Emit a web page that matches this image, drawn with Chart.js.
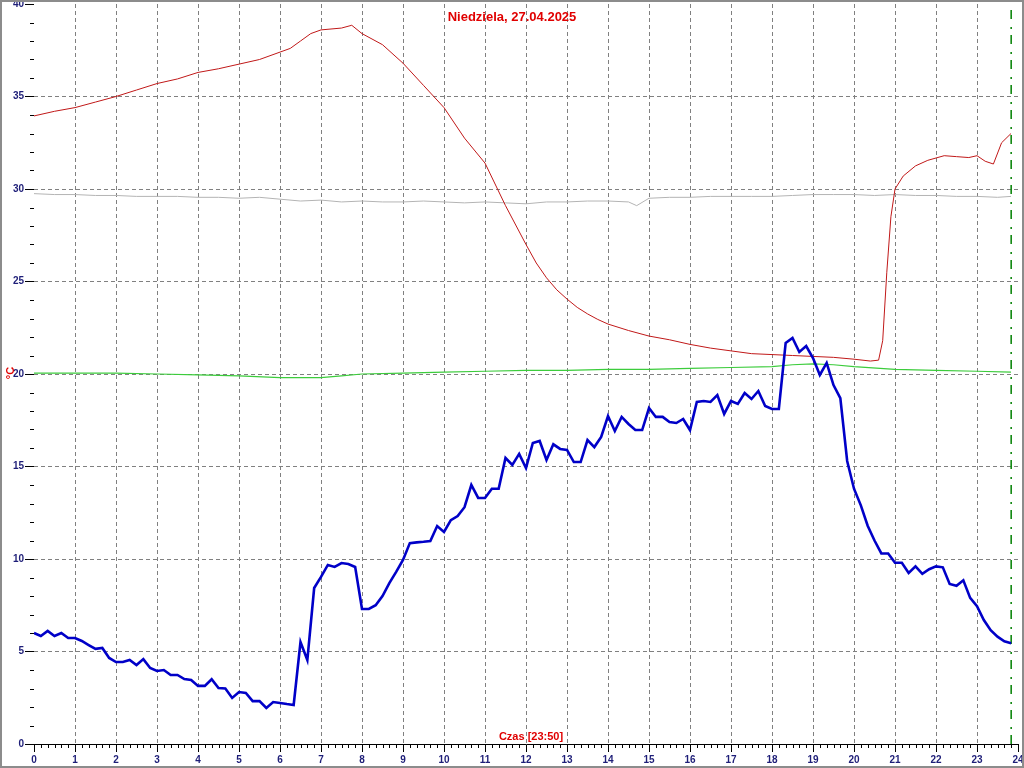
<!DOCTYPE html>
<html>
<head>
<meta charset="utf-8">
<script src="https://cdn.jsdelivr.net/npm/chart.js@4.4.1/dist/chart.umd.min.js"></script>
<style>
  html, body { margin: 0; padding: 0; background: #fff; }
  canvas { display: block; }
</style>
</head>
<body>
<canvas id="wykres" width="1024" height="768"></canvas>
<script>
const tytul = "Niedziela, 27.04.2025";
const opisX = "Czas [23:50]";
const opisY = "°C";
const czasPomiaru = 23 + 50 / 60; // 23:50

const godziny = [0,1,2,3,4,5,6,7,8,9,10,11,12,13,14,15,16,17,18,19,20,21,22,23,24];
const wartosciY = [0,5,10,15,20,25,30,35,40];

// temperatura zewnetrzna - pomiar co 10 minut od 0:00
const tempZew = [
  6.0, 5.84, 6.11, 5.84, 6.0, 5.73, 5.73, 5.57, 5.35, 5.14,
  5.19, 4.65, 4.43, 4.43, 4.54, 4.27, 4.59, 4.11, 3.95, 4.0,
  3.73, 3.73, 3.51, 3.46, 3.14, 3.14, 3.5, 3.03, 3.0, 2.49,
  2.81, 2.76, 2.32, 2.32, 1.95, 2.27, 2.22, 2.16, 2.11, 5.51,
  4.54, 8.43, 9.03, 9.68, 9.57, 9.78, 9.73, 9.57, 7.3, 7.3,
  7.5, 8.0, 8.7, 9.3, 9.95, 10.86, 10.9, 10.93, 10.97, 11.78,
  11.46, 12.1, 12.32, 12.8, 14.0, 13.3, 13.3, 13.8, 13.8, 15.46,
  15.08, 15.68, 14.92, 16.27, 16.38, 15.35, 16.2, 15.95, 15.9, 15.24,
  15.24, 16.43, 16.05, 16.6, 17.73, 16.92, 17.68, 17.3, 16.97, 16.97,
  18.16, 17.68, 17.68, 17.4, 17.35, 17.57, 16.97, 18.49, 18.54, 18.49,
  18.86, 17.84, 18.54, 18.38, 18.97, 18.65, 19.08, 18.27, 18.11, 18.11,
  21.68, 21.95, 21.19, 21.51, 20.86, 19.95, 20.6, 19.4, 18.7, 15.3,
  13.8, 12.9, 11.8, 11.0, 10.3, 10.3, 9.8, 9.8, 9.25, 9.6,
  9.2, 9.45, 9.6, 9.55, 8.65, 8.55, 8.85, 7.9, 7.45, 6.7,
  6.15, 5.8, 5.55, 5.45
];
const czasZew = tempZew.map((_, i) => i / 6);

// czerwona linia
const czasCzerwony = [0,0.5,1,1.5,2,2.5,3,3.5,4,4.5,5,5.5,6,6.25,6.5,6.75,7,7.5,7.75,8,8.5,9,9.5,10,10.5,11,11.5,12,12.25,12.5,12.75,13,13.25,13.5,13.75,14,14.5,15,15.5,16,16.5,17,17.5,18,18.5,19,19.5,20,20.4,20.6,20.7,20.8,20.9,21,21.2,21.5,21.8,22.2,22.5,22.8,23,23.2,23.4,23.6,23.83];
const tempCzerwony = [33.95,34.2,34.4,34.7,35.0,35.35,35.7,35.95,36.3,36.5,36.75,37.0,37.4,37.6,38.0,38.4,38.6,38.7,38.85,38.4,37.8,36.8,35.6,34.4,32.75,31.4,29.1,27.0,26.0,25.2,24.55,24.05,23.6,23.25,22.95,22.7,22.35,22.05,21.85,21.6,21.4,21.25,21.1,21.05,21.0,20.95,20.9,20.8,20.7,20.75,21.8,25.5,28.5,30.0,30.7,31.25,31.55,31.8,31.75,31.7,31.8,31.5,31.35,32.5,33.0];

// szara linia
const czasSzary = [0,0.5,1,1.5,2,2.5,3,3.5,4,4.5,5,5.5,6,6.5,7,7.5,8,8.5,9,9.5,10,10.5,11,11.5,12,12.5,13,13.5,14,14.5,14.7,15,15.5,16,16.5,17,17.5,18,18.5,19,19.5,20,20.5,21,21.5,22,22.5,23,23.5,23.83];
const tempSzary = [29.75,29.7,29.7,29.65,29.65,29.6,29.6,29.6,29.55,29.55,29.5,29.55,29.45,29.35,29.4,29.3,29.35,29.3,29.3,29.35,29.3,29.25,29.3,29.25,29.2,29.3,29.3,29.35,29.35,29.3,29.1,29.5,29.55,29.55,29.6,29.6,29.6,29.6,29.65,29.7,29.7,29.7,29.65,29.7,29.65,29.65,29.6,29.6,29.55,29.6];

// zielona linia
const czasZielony = [0,1,2,3,4,5,6,7,7.5,8,9,10,11,12,13,14,15,16,17,18,18.5,19,19.5,20,21,22,23,23.83];
const tempZielony = [20.05,20.05,20.05,20.0,19.95,19.9,19.8,19.8,19.9,20.0,20.05,20.1,20.15,20.2,20.2,20.25,20.25,20.3,20.35,20.4,20.5,20.55,20.5,20.4,20.25,20.2,20.15,20.1];

const punkty = (xs, ys) => xs.map((v, i) => ({ x: v, y: ys[i] }));

const czcionka = "'Liberation Sans', Arial, sans-serif";
const kolorOsi = '#1e1e78';

const dodatki = {
  id: 'dodatki',
  afterDraw(chart) {
    const { ctx, chartArea } = chart;
    const x = chart.scales.x, y = chart.scales.y;
    ctx.save();
    // drobne kreski na osiach
    ctx.strokeStyle = '#000';
    ctx.lineWidth = 1;
    ctx.beginPath();
    for (let v = 0; v <= 40; v++) {
      if (v % 5 === 0) continue;
      const py = Math.round(y.getPixelForValue(v)) + 0.5;
      ctx.moveTo(chartArea.left - 4, py);
      ctx.lineTo(chartArea.left, py);
    }
    for (let m = 0; m <= 24 * 60; m += 10) {
      if (m % 60 === 0) continue;
      const px = Math.round(x.getPixelForValue(m / 60)) + 0.5;
      ctx.moveTo(px, chartArea.bottom);
      ctx.lineTo(px, chartArea.bottom + 4);
    }
    ctx.stroke();

    // napisy
    ctx.fillStyle = '#e00000';
    ctx.textAlign = 'center';
    ctx.textBaseline = 'middle';
    ctx.font = 'bold 13px ' + czcionka;
    ctx.fillText(tytul, 512, 17);
    ctx.font = 'bold 11px ' + czcionka;
    ctx.fillText(opisX, 531, 737);
    ctx.save();
    ctx.translate(11, 373);
    ctx.rotate(-Math.PI / 2);
    ctx.fillText(opisY, 0, 0);
    ctx.restore();

    // ramka
    ctx.strokeStyle = '#8c8c8c';
    ctx.lineWidth = 2;
    ctx.strokeRect(1, 1, 1022, 766);
    ctx.restore();
  }
};

new Chart(document.getElementById('wykres'), {
  type: 'line',
  data: {
    datasets: [
      {
        label: 'Temperatura zewnętrzna',
        data: punkty(czasZew, tempZew),
        borderColor: '#0000c8',
        borderWidth: 2.6
      },
      {
        label: 'Czerwona',
        data: punkty(czasCzerwony, tempCzerwony),
        borderColor: '#c01818',
        borderWidth: 1
      },
      {
        label: 'Zielona',
        data: punkty(czasZielony, tempZielony),
        borderColor: '#3ccc3c',
        borderWidth: 1.2
      },
      {
        label: 'Szara',
        data: punkty(czasSzary, tempSzary),
        borderColor: '#b4b4b4',
        borderWidth: 1
      },
      {
        label: 'Teraz',
        data: [{ x: czasPomiaru, y: 0 }, { x: czasPomiaru, y: 40 }],
        borderColor: '#008000',
        borderWidth: 1.5,
        borderDash: [9, 6, 2, 8]
      }
    ]
  },
  options: {
    responsive: false,
    animation: false,
    events: [],
    layout: { padding: { top: 4, right: 6, left: 0, bottom: 0 } },
    elements: {
      point: { radius: 0 },
      line: { tension: 0, fill: false }
    },
    plugins: {
      legend: { display: false },
      tooltip: { enabled: false }
    },
    scales: {
      x: {
        type: 'linear',
        min: godziny[0],
        max: godziny[godziny.length - 1],
        afterFit(axis) {
          axis.height = 24;
          axis.paddingLeft = 0;
          axis.paddingRight = 0;
        },
        afterBuildTicks(axis) {
          axis.ticks = godziny.map(v => ({ value: v }));
        },
        ticks: {
          autoSkip: false,
          maxRotation: 0,
          padding: 2,
          color: kolorOsi,
          font: { family: czcionka, size: 10, weight: 'bold' }
        },
        grid: {
          color: c => (c.tick && (c.tick.value === 0 || c.tick.value === 24)) ? 'rgba(0,0,0,0)' : '#808080',
          tickColor: '#000',
          tickLength: 8,
          lineWidth: 1
        },
        border: { display: true, color: '#000', width: 1, dash: [4, 3] }
      },
      y: {
        min: 0,
        max: 40,
        afterFit(axis) {
          axis.width = 34;
          axis.paddingTop = 0;
          axis.paddingBottom = 0;
        },
        afterBuildTicks(axis) {
          axis.ticks = wartosciY.map(v => ({ value: v }));
        },
        ticks: {
          padding: 1,
          color: kolorOsi,
          font: { family: czcionka, size: 10, weight: 'bold' }
        },
        grid: {
          color: c => (c.tick && (c.tick.value === 0 || c.tick.value === 40)) ? 'rgba(0,0,0,0)' : '#808080',
          tickColor: '#000',
          tickLength: 9,
          lineWidth: 1
        },
        border: { display: false, dash: [4, 3] }
      }
    }
  },
  plugins: [dodatki]
});
</script>
</body>
</html>
